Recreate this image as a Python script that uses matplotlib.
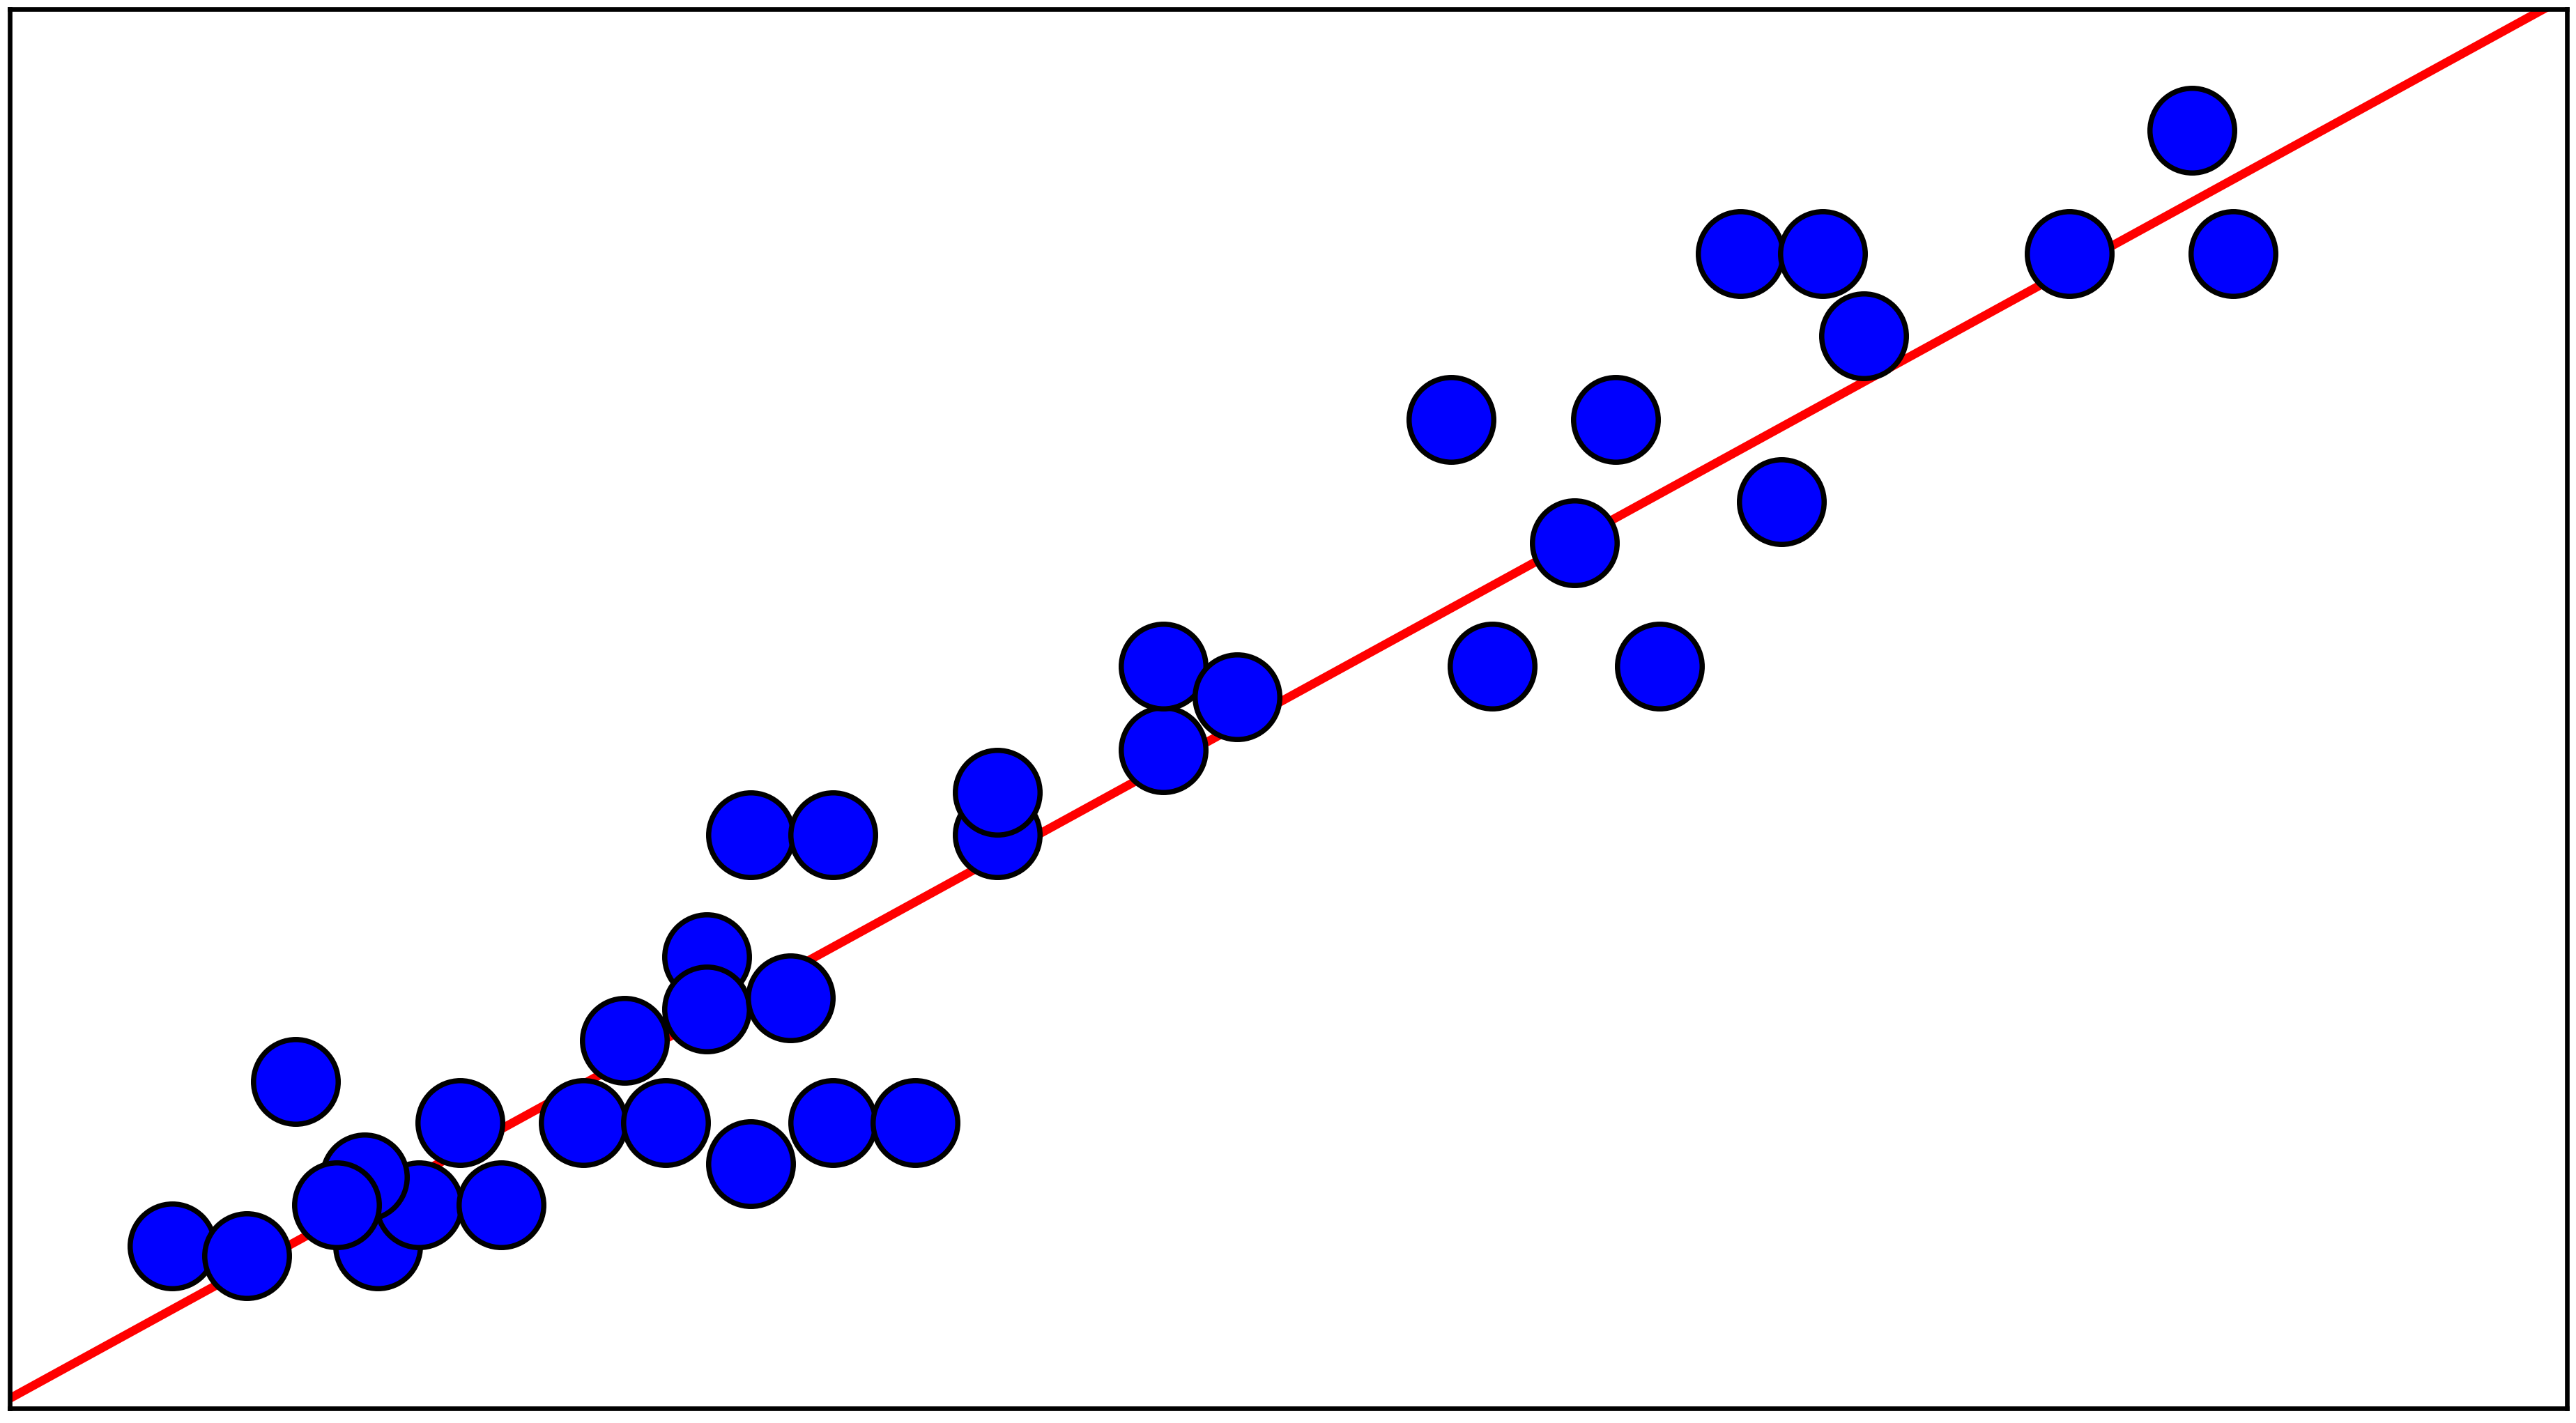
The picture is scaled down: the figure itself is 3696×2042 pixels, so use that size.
import matplotlib
matplotlib.use("Agg")
import matplotlib.pyplot as plt

# scatter points (arbitrary units)
x_vals = [3.96, 5.76, 6.96, 8.96, 9.96, 8.64, 7.96, 10.96, 11.96, 13.96,
          14.96, 15.96, 16.96, 16.96, 18.04, 18.04, 19.0, 20.04, 20.04, 22.04,
          24.04, 24.04, 28.08, 28.08, 29.88, 35.08, 36.08, 38.08, 39.08, 40.16,
          42.12, 43.12, 44.12, 45.12, 50.12, 53.12, 54.12]
y_vals = [3.96, 3.72, 7.96, 3.96, 4.96, 5.64, 4.96, 6.96, 4.96, 6.96,
          8.96, 6.96, 11.0, 9.72, 5.96, 13.96, 10.0, 13.96, 6.96, 6.96,
          13.96, 15.0, 16.04, 18.08, 17.32, 24.08, 18.08, 21.08, 24.08, 18.08,
          28.12, 22.08, 28.12, 26.12, 28.12, 31.12, 28.12]

# fitted line
fit_slope = 0.5486
fit_intercept = 0.24

x_lim = (0, 62.24)
y_lim = (0, 34.08)

fig = plt.figure(figsize=(12.32, 6.81), dpi=300)
ax = fig.add_axes([0.0038, 0.0103, 0.9927, 0.983])

line_x = list(x_lim)
line_y = [fit_intercept + fit_slope * v for v in line_x]
ax.plot(line_x, line_y, color="red", linewidth=3.0, zorder=1)
ax.scatter(x_vals, y_vals, s=850, color="blue", edgecolor="black",
           linewidth=1.8, zorder=2)

ax.set_xlim(*x_lim)
ax.set_ylim(*y_lim)
ax.set_xticks(())
ax.set_yticks(())
for sp in ax.spines.values():
    sp.set_linewidth(1.6)

fig.savefig("out.png", dpi=300)
